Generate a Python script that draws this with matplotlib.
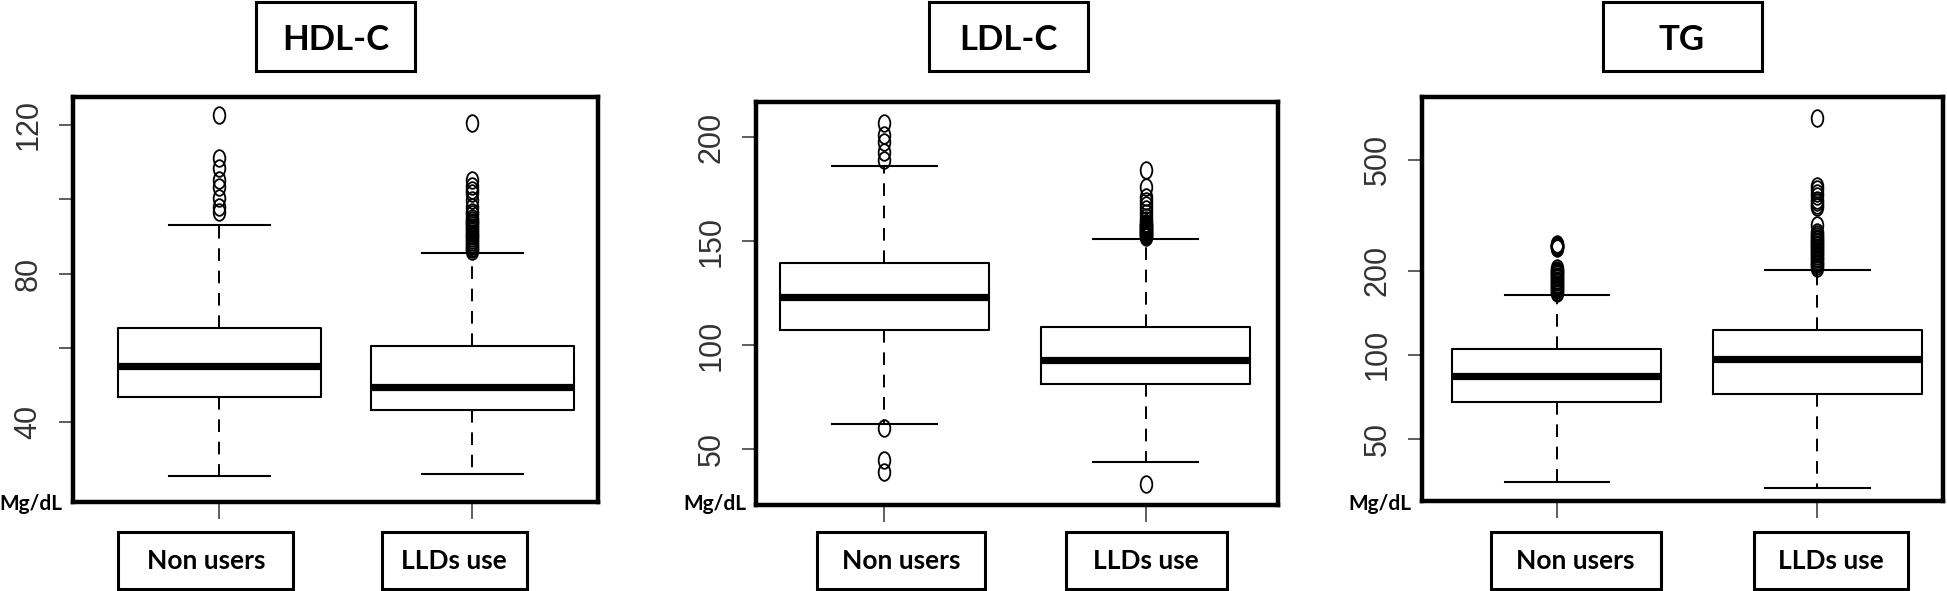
import matplotlib
matplotlib.use("Agg")

import matplotlib.pyplot as plt
from matplotlib.patches import Rectangle
from matplotlib.path import Path
from matplotlib.transforms import Affine2D
from matplotlib.ticker import FixedLocator, FixedFormatter, NullLocator

# ---- data (mg/dL) ----
groups = ["Non users", "LLDs use"]
titles = ["HDL-C", "LDL-C", "TG"]

# whislo, q1, median, q3, whishi
hdl_nonusers = [25.4, 46.7, 55.0, 65.3, 93.1]
hdl_llds = [26.1, 43.3, 49.6, 60.6, 85.6]
ldl_nonusers = [62.2, 107.2, 123.4, 139.4, 186.1]
ldl_llds = [44.1, 81.3, 93.1, 109.0, 151.3]
tg_nonusers = [35.1, 67.9, 83.7, 105.1, 163.4]
tg_llds = [33.2, 72.4, 96.2, 122.8, 201.0]

# outliers
hdl_nonusers_out = [96.7, 98.0, 100.3, 103.4, 105.2, 108.4, 111.1, 122.7]
hdl_llds_out = [86.0, 86.5, 87.0, 87.5, 88.0, 88.5, 89.0, 89.5, 90.0, 90.5,
                91.0, 91.5, 92.0, 92.5, 93.0, 93.5, 94.0, 94.5, 95.0, 96.0,
                96.5, 98.0, 99.8, 101.6, 102.5, 103.6, 105.2, 120.6]
ldl_nonusers_out = [39.2, 44.9, 60.1, 189.1, 193.1, 197.9, 201.1, 207.0]
ldl_llds_out = [33.2, 152.0, 152.5, 153.0, 153.5, 154.0, 154.5, 155.0, 155.5,
                156.0, 156.5, 157.0, 157.5, 158.0, 158.5, 159.0, 160.0, 161.8,
                163.5, 165.5, 167.5, 169.5, 171.5, 176.3, 184.3]
tg_nonusers_out = [166, 168, 170, 172, 174, 176, 178, 180, 182, 184, 186, 188,
                   190, 192, 194, 196, 198, 200, 202, 204,
                   242, 243, 244, 245, 246, 247, 248, 249]
tg_llds_out = [205, 208, 211, 214, 217, 220, 223, 226, 229, 232, 235, 238,
               241, 244, 247, 250, 253, 256, 259, 262, 266, 270, 275, 291,
               338, 345, 352, 360, 370, 380, 392, 402, 705]

hdl_ticks = [40, 60, 80, 100, 120]
hdl_ticklabels = ["40", "", "80", "", "120"]
ldl_ticks = [50, 100, 150, 200]
ldl_ticklabels = ["50", "100", "150", "200"]
tg_ticks = [50, 100, 200, 500]
tg_ticklabels = ["50", "100", "200", "500"]

unit_label = "Mg/dL"

# ---- layout (pixels of the 1947x591 image) ----
W, H = 1947, 591
DPI = 100


def fx(px):
    return px / W


def fy(py):
    return 1 - py / H


def make_stats(summary, fliers):
    lo, q1, med, q3, hi = summary
    return dict(whislo=lo, q1=q1, med=med, q3=q3, whishi=hi, fliers=fliers)


# box = frame left, top, right, bottom; title_x = centre of title box;
# group_boxes = (centre, width) of the two boxed labels under the panel
panels = [
    dict(box=(72.7, 96.7, 598.3, 501.7), xlim=(0.42, 2.498), ylim=(18.6, 127.6),
         log=False, ticks=hdl_ticks, labels=hdl_ticklabels, title_x=335.5,
         group_boxes=[(205.8, 175), (454.2, 145)],
         stats=[make_stats(hdl_nonusers, hdl_nonusers_out), make_stats(hdl_llds, hdl_llds_out)]),
    dict(box=(756.0, 101.7, 1278.3, 505.0), xlim=(0.509, 2.507), ylim=(23.2, 217.1),
         log=False, ticks=ldl_ticks, labels=ldl_ticklabels, title_x=1008.5,
         group_boxes=[(901.2, 168), (1146.2, 161)],
         stats=[make_stats(ldl_nonusers, ldl_nonusers_out), make_stats(ldl_llds, ldl_llds_out)]),
    dict(box=(1421.7, 97.3, 1943.3, 500.7), xlim=(0.482, 2.483), ylim=(30.0, 837.0),
         log=True, ticks=tg_ticks, labels=tg_ticklabels, title_x=1682.0,
         group_boxes=[(1575.6, 170), (1830.8, 154)],
         stats=[make_stats(tg_nonusers, tg_nonusers_out), make_stats(tg_llds, tg_llds_out)]),
]

# R draws its open circles; the source image is squeezed sideways
ellipse = Path.unit_circle().transformed(Affine2D().scale(0.7, 1.0))

label_font = ["Lato", "DejaVu Sans"]
tick_font = ["Liberation Sans", "DejaVu Sans"]
ink = "#333333"

fig = plt.figure(figsize=(W / DPI, H / DPI), dpi=DPI)
fig.patch.set_facecolor("white")

for p, title in zip(panels, titles):
    x0, y0, x1, y1 = p["box"]
    ax = fig.add_axes([fx(x0), fy(y1), fx(x1) - fx(x0), (y1 - y0) / H])

    ax.bxp(p["stats"], positions=[1, 2], widths=0.8, showfliers=True,
           boxprops=dict(color="black", linewidth=1.5),
           whiskerprops=dict(color="black", linewidth=1.4, linestyle=(0, (6.5, 5))),
           capprops=dict(color="black", linewidth=1.5),
           medianprops=dict(color="black", linewidth=5.2, solid_capstyle="butt"),
           flierprops=dict(marker=ellipse, markersize=12, markerfacecolor="none",
                           markeredgecolor="black", markeredgewidth=1.3))

    if p["log"]:
        ax.set_yscale("log")
    ax.set_xlim(*p["xlim"])
    ax.set_ylim(*p["ylim"])

    ax.yaxis.set_major_locator(FixedLocator(p["ticks"]))
    ax.yaxis.set_major_formatter(FixedFormatter(p["labels"]))
    ax.yaxis.set_minor_locator(NullLocator())
    ax.set_xticks([1, 2])
    ax.set_xticklabels(["", ""])

    ax.tick_params(axis="y", direction="out", length=10, width=1.1, color=ink,
                   pad=11, labelsize=22, labelcolor=ink, labelrotation=90)
    ax.tick_params(axis="x", direction="out", length=12, width=1.1, color=ink)
    for lab in ax.get_yticklabels():
        lab.set_family(tick_font)
        lab.set_verticalalignment("center")

    for sp in ax.spines.values():
        sp.set_linewidth(3.2)
        sp.set_color("black")

    # title box above the panel
    cx = p["title_x"]
    fig.patches.append(Rectangle((fx(cx - 79.5), fy(71)), 159 / W, 69 / H,
                                 transform=fig.transFigure, fill=False,
                                 edgecolor="black", linewidth=2.2))
    fig.text(fx(cx), fy(50), title, ha="center", va="baseline", fontsize=25,
             fontweight="bold", family=label_font)

    # unit label at the bottom left corner
    fig.text(fx(x0 - 10), fy(510), unit_label, ha="right", va="baseline",
             fontsize=15, fontweight="bold", family=label_font)

    # boxed group labels under the panel
    for (bx, bw), name in zip(p["group_boxes"], groups):
        fig.patches.append(Rectangle((fx(bx - bw / 2), fy(589)), bw / W, 57 / H,
                                     transform=fig.transFigure, fill=False,
                                     edgecolor="black", linewidth=2.2))
        fig.text(fx(bx), fy(569), name, ha="center", va="baseline", fontsize=19,
                 fontweight="bold", family=label_font)

fig.savefig("out.png", dpi=DPI, facecolor="white")
